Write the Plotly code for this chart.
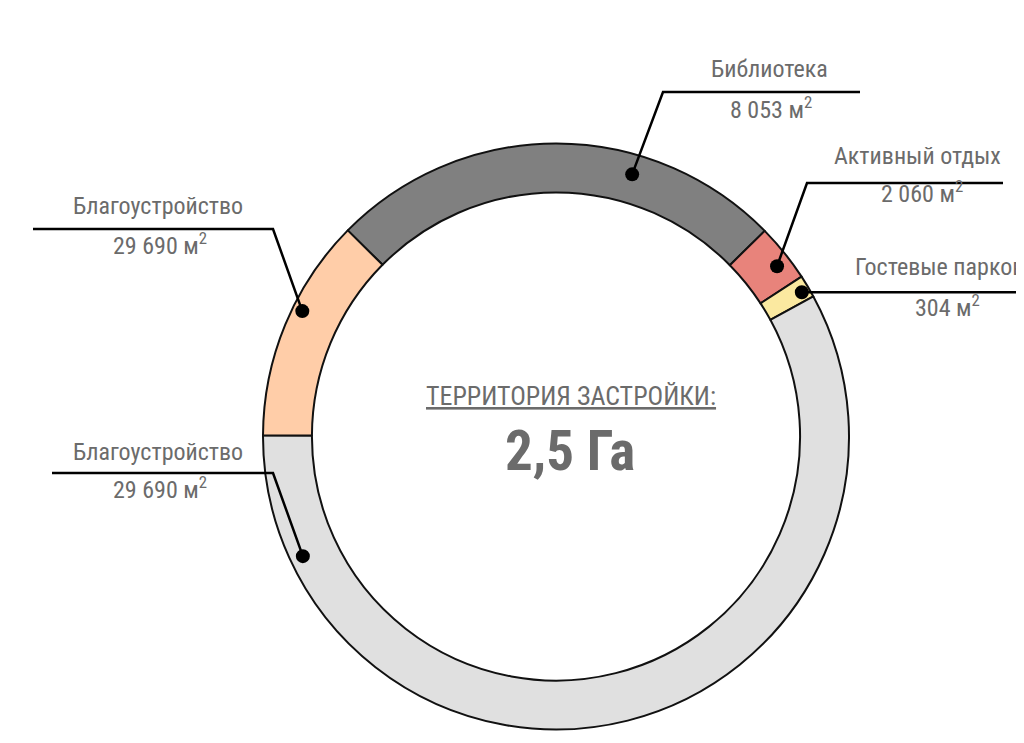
import math
import plotly.graph_objects as go

# page body has an 8px margin: draw a slightly smaller figure and shift coordinates
OFF = 8
W, H = 1024 - 2 * OFF, 743 - 2 * OFF

# ---- data ----
segments = ["Библиотека", "Активный отдых", "Гостевые парковки", "Благоустройство (2)", "Благоустройство (1)"]
# visual share of the ring (percent of circle)
shares = [25.2, 3.2, 1.25, 58.0, 12.35]
colors = ["#808080", "#E8837B", "#FBE9A0", "#E0E0E0", "#FFCDA8"]

label_names = ["Библиотека", "Активный отдых", "Гостевые парковки", "Благоустройство", "Благоустройство"]
label_values = ["8 053", "2 060", "304", "29 690", "29 690"]
unit = "м<sup>2</sup>"

center_title = "ТЕРРИТОРИЯ ЗАСТРОЙКИ:"
center_value = "2,5 Га"
page_title = "ТЕХНИКО-ЭКОНОМИЧЕСКИЕ ПОКАЗАТЕЛИ"

# ---- layout geometry (screen pixels) ----
cx, cy, R = 556, 436.5, 293
hole = 0.833


def px(x, y):
    return (x - OFF) / W, 1 - (y - OFF) / H


FONT = "Liberation Sans Narrow, Arial Narrow, Roboto Condensed, DejaVu Sans Condensed, sans-serif"
TXT = "#6b6b6b"

fig = go.Figure()
dx0, dy1 = px(cx - R, cy - R)
dx1, dy0 = px(cx + R, cy + R)
fig.add_trace(go.Pie(
    labels=segments, values=shares, sort=False, direction="clockwise",
    rotation=-45.3, hole=hole, textinfo="none", hoverinfo="label",
    marker=dict(colors=colors, line=dict(color="#111111", width=2)),
    domain=dict(x=[dx0, dx1], y=[dy0, dy1]),
    showlegend=False,
))

# leader lines: dot position (angle clockwise from top, radius), elbow, end of horizontal
leaders = [
    dict(ang=16.2, r=273, elbow=(663, 92), end=(860, 92)),
    dict(ang=52.4, r=279, elbow=(807, 183), end=(1003, 183)),
    dict(ang=59.6, r=285, elbow=None, end=(1030, 292)),
    dict(ang=244.7, r=280, elbow=(273, 473), end=(52, 473)),
    dict(ang=296.3, r=283, elbow=(273, 229), end=(33, 229)),
]
# label text positions: (name x, name y, value x, value y, anchor)
label_pos = [
    (769, 69, 771, 108, "center"),
    (917, 156, 922, 192, "center"),
    (853, 267, 947, 306, "left"),
    (158, 452, 160, 488, "center"),
    (158, 206, 160, 244, "center"),
]

shapes = []
annotations = []
for i, ld in enumerate(leaders):
    a = math.radians(ld["ang"])
    dx, dy = cx + ld["r"] * math.sin(a), cy - ld["r"] * math.cos(a)
    pts = [(dx, dy)]
    if ld["elbow"]:
        pts.append(ld["elbow"])
        end = ld["end"]
    else:
        end = (ld["end"][0], dy)
    pts.append(end)
    path = "M " + " L ".join(f"{px(x, y)[0]},{px(x, y)[1]}" for x, y in pts)
    shapes.append(dict(type="path", path=path, xref="paper", yref="paper",
                       line=dict(color="#000000", width=2.5)))
    rr = 7
    x0, y0 = px(dx - rr, dy - rr)
    x1, y1 = px(dx + rr, dy + rr)
    shapes.append(dict(type="circle", xref="paper", yref="paper", x0=x0, y0=y1, x1=x1, y1=y0,
                       fillcolor="#000000", line=dict(color="#000000", width=0)))

for i, (nx, ny, vx, vy, anc) in enumerate(label_pos):
    x, y = px(nx, ny)
    annotations.append(dict(x=x, y=y, xref="paper", yref="paper", text=label_names[i],
                            showarrow=False, xanchor=anc, yanchor="middle",
                            font=dict(family=FONT, size=24, color=TXT)))
    x, y = px(vx, vy)
    annotations.append(dict(x=x, y=y, xref="paper", yref="paper",
                            text=f"{label_values[i]} {unit}",
                            showarrow=False, xanchor="center", yanchor="middle",
                            font=dict(family=FONT, size=24, color=TXT)))

x, y = px(571, 396)
annotations.append(dict(x=x, y=y, xref="paper", yref="paper", text=f"<u>{center_title}</u>",
                        showarrow=False, xanchor="center", yanchor="middle",
                        font=dict(family=FONT, size=26, color=TXT)))
x, y = px(570, 451)
annotations.append(dict(x=x, y=y, xref="paper", yref="paper", text=f"<b>{center_value}</b>",
                        showarrow=False, xanchor="center", yanchor="middle",
                        font=dict(family=FONT, size=55, color=TXT)))
x, y = px(183, 14)
annotations.append(dict(x=x, y=y, xref="paper", yref="paper", text=page_title,
                        showarrow=False, xanchor="left", yanchor="bottom",
                        font=dict(family="Liberation Sans, Arial, sans-serif", size=44, color=TXT)))

fig.update_layout(
    width=W, height=H, margin=dict(l=0, r=0, t=0, b=0),
    paper_bgcolor="white", plot_bgcolor="white",
    shapes=shapes, annotations=annotations,
)
fig.write_html("out.html")
